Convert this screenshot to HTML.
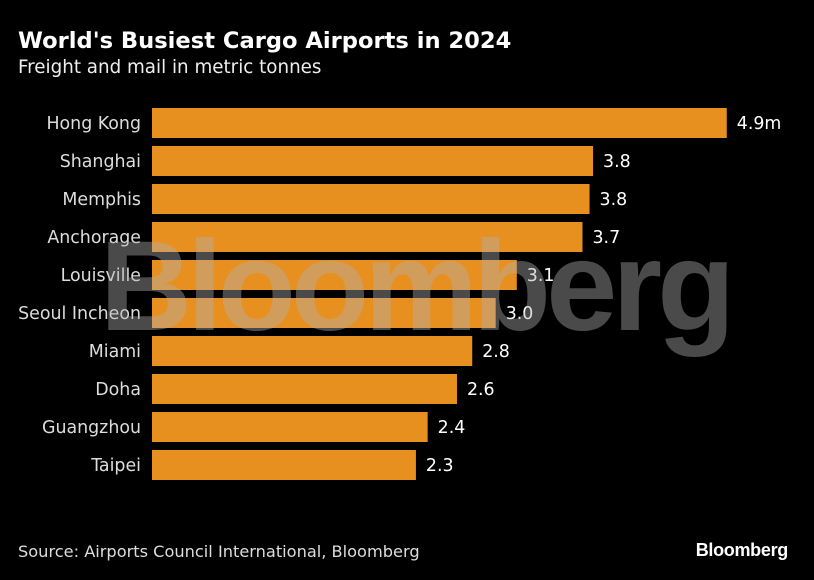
<!DOCTYPE html>
<html><head><meta charset="utf-8">
<style>
html,body{margin:0;padding:0;background:#000;}
body{width:814px;height:580px;position:relative;overflow:hidden;font-family:"DejaVu Sans",sans-serif;color:#fff;}
.title{position:absolute;left:18px;top:28px;font-size:22.6px;font-weight:bold;}
.sub{position:absolute;left:18px;top:57px;font-size:18.3px;color:#eee;}
.src{position:absolute;left:18px;top:542px;font-size:16.2px;color:#ddd;}
.logo{position:absolute;right:26px;top:540px;font-family:"Liberation Sans",sans-serif;font-size:18px;font-weight:bold;letter-spacing:-0.3px;}
svg{position:absolute;left:0;top:0;}
</style></head><body>
<div class="title">World's Busiest Cargo Airports in 2024</div>
<div class="sub">Freight and mail in metric tonnes</div>
<svg id="chart" width="814" height="580"></svg>
<div class="src">Source: Airports Council International, Bloomberg</div>
<div class="logo">Bloomberg</div>
<script>
const categories=["Hong Kong","Shanghai","Memphis","Anchorage","Louisville","Seoul Incheon","Miami","Doha","Guangzhou","Taipei"];
const values=[4.9,3.76,3.73,3.67,3.11,2.93,2.73,2.6,2.35,2.25];
const valueLabels=["4.9m","3.8","3.8","3.7","3.1","3.0","2.8","2.6","2.4","2.3"];
const NS="http://www.w3.org/2000/svg";
const svg=document.getElementById('chart');
const x0=152,scale=117.3;
function xPos(v){return x0+v*scale;}
function yPos(i){return 108+i*38;}
const bh=30;
function mk(t,a){const e=document.createElementNS(NS,t);for(const k in a)e.setAttribute(k,a[k]);return e;}
categories.forEach((c,i)=>{
  const r=mk('rect',{x:x0,y:yPos(i),width:xPos(values[i])-x0,height:bh,fill:'#E8901F'});
  
  
  svg.appendChild(r);
  const l=mk('text',{x:141,y:yPos(i)+bh/2+6,'text-anchor':'end','font-size':'17.4',fill:'#ddd','font-family':'DejaVu Sans, sans-serif'});
  l.textContent=c;
  
  
  svg.appendChild(l);
  const v=mk('text',{x:xPos(values[i])+10,y:yPos(i)+bh/2+6,'font-size':'17.4',fill:'#fff','font-family':'DejaVu Sans, sans-serif'});
  v.textContent=valueLabels[i];
  
  
  svg.appendChild(v);
});
const w=mk('text',{x:415,y:330,'text-anchor':'middle','font-size':'128','font-weight':'bold',fill:'#b0b0b0','fill-opacity':'0.42','font-family':'Liberation Sans, sans-serif','letter-spacing':'-5'});
w.textContent='Bloomberg';


svg.appendChild(w);
</script>
</body></html>
